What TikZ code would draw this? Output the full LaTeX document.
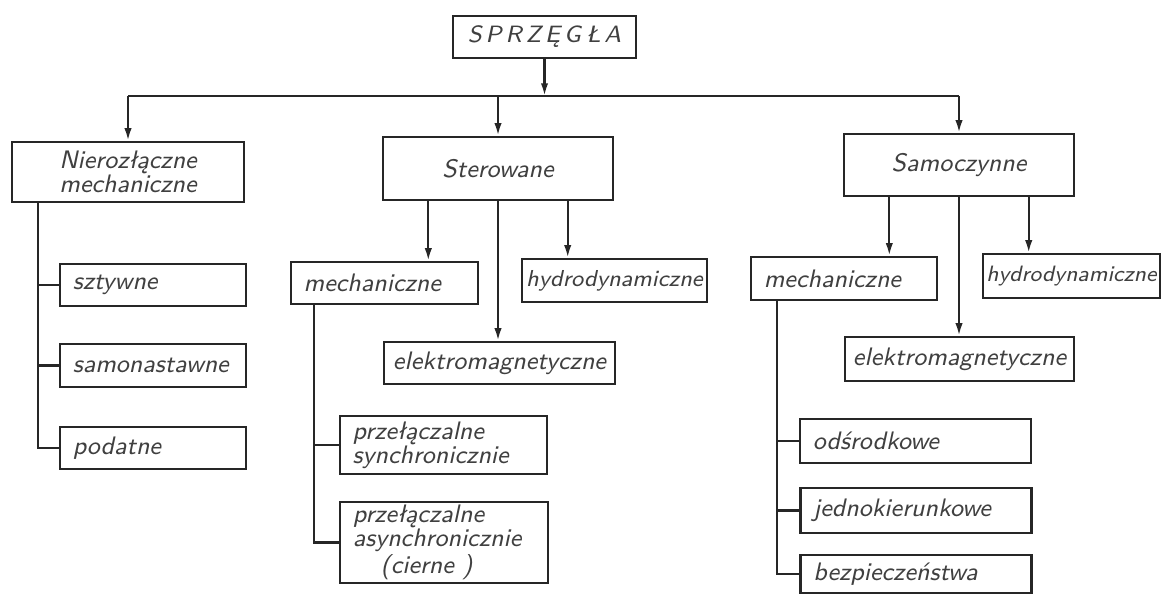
\documentclass[tikz,border=0pt]{standalone}
\usepackage{fontspec}
\usetikzlibrary{calc,arrows.meta}
\tikzset{>={Latex[length=4.5pt,width=2.6pt]}}
\tikzset{box/.style={draw=black!85, thick, rectangle, inner sep=1pt, text=black!75,
  font=\sffamily\itshape\fontsize{9}{8.5}\selectfont, align=center},
  lbox/.style={box, align=left, inner xsep=0.16cm, text width=#1},
  line/.style={thick, draw=black!85}}

\begin{document}
\begin{tikzpicture}[x=0.0125cm, y=-0.0125cm]
\useasboundingbox (0,0) rectangle (1161,594);

% top
\node[box, minimum width=2.29cm, minimum height=0.525cm, font=\sffamily\itshape\fontsize{8.4}{9}\selectfont] (sprz) at (544.5,37) {S\,P\,R\,Z\,Ę\,G\,Ł\,A};
\node[box, minimum width=2.9cm, minimum height=0.75cm] (nier) at (128,172) {Nierozłączne\\mechaniczne};
\node[box, minimum width=2.875cm, minimum height=0.79cm] (ster) at (498,168.5) {Sterowane};
\node[box, minimum width=2.875cm, minimum height=0.775cm] (samo) at (959,165) {Samoczynne};

% nierozlaczne
\node[lbox=2.005cm, minimum height=0.53cm] (szt) at (153,285) {sztywne};
\node[lbox=2.005cm, minimum height=0.53cm] (samon) at (153,365.5) {samonastawne};
\node[lbox=2.005cm, minimum height=0.53cm] (podat) at (153,448) {podatne};

% sterowane
\node[lbox=2.02cm, minimum height=0.525cm] (smech) at (384.5,283) {mechaniczne};
\node[box, minimum width=2.31cm, minimum height=0.54cm, font=\sffamily\itshape\fontsize{8.2}{9}\selectfont] (shydr) at (614.5,280.5) {hydrodynamiczne};
\node[box, minimum width=2.89cm, minimum height=0.525cm] (selek) at (499.5,363) {elektromagnetyczne};
\node[lbox=2.27cm, minimum height=0.725cm] (sprs) at (443.5,445) {przełączalne\\synchronicznie};
\node[lbox=2.28cm, minimum height=0.94cm] (spra) at (444,542.5) {przełączalne\\asynchronicznie\\\hspace*{1.1em}(cierne\ )};

% samoczynne
\node[lbox=2.005cm, minimum height=0.54cm] (mmech) at (844,278.5) {mechaniczne};
\node[box, minimum width=2.21cm, minimum height=0.55cm, font=\sffamily\itshape\fontsize{7.9}{9}\selectfont] (mhydr) at (1071.5,276) {hydrodynamiczne};
\node[box, minimum width=2.86cm, minimum height=0.55cm] (melek) at (959.5,359) {elektromagnetyczne};
\node[lbox=2.565cm, minimum height=0.55cm] (modsr) at (915.5,441) {odśrodkowe};
\node[lbox=2.565cm, minimum height=0.56cm] (mjedn) at (916,510.5) {jednokierunkowe};
\node[lbox=2.565cm, minimum height=0.475cm] (mbezp) at (916,574) {bezpieczeństwa};

% connectors
\coordinate (bus) at (sprz.south |- 0,96);
\draw[line,->] (sprz) -- (bus);
\draw[line] (bus -| nier.north) -- (bus -| samo.north);
\foreach \n in {nier,ster,samo}
  \draw[line,->] (bus -| \n.north) -- (\n);

\coordinate (ltrunk) at (38,0 |- nier.south);
\draw[line] (ltrunk) |- (podat);
\foreach \n in {szt,samon}
  \draw[line] (ltrunk |- \n.west) -- (\n);

\foreach \f/\n in {.2/smech,.5/selek,.8/shydr}{
  \coordinate (tmp) at ($(ster.south west)!\f!(ster.south east)$);
  \draw[line,->] (tmp) -- (tmp |- \n.north);
}
\coordinate (strunk) at ($(smech.south west)+(24.5,0)$);
\draw[line] (strunk) |- (spra);
\draw[line] (strunk |- sprs.west) -- (sprs);

\foreach \f/\n in {.2/mmech,.5/melek,.8/mhydr}{
  \coordinate (tmp) at ($(samo.south west)!\f!(samo.south east)$);
  \draw[line,->] (tmp) -- (tmp |- \n.north);
}
\coordinate (mtrunk) at ($(mmech.south west)+(27,0)$);
\draw[line] (mtrunk) |- (mbezp);
\foreach \n in {modsr,mjedn}
  \draw[line] (mtrunk |- \n.west) -- (\n);

\end{tikzpicture}
\end{document}
